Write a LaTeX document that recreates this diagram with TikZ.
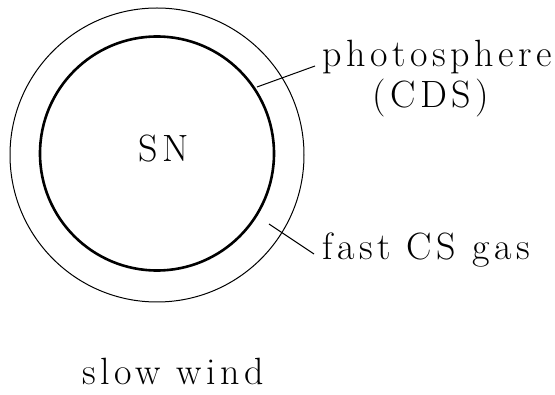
\documentclass[tikz,border=0pt]{standalone}
\usepackage{fontspec}
\newfontfamily\spaced{Latin Modern Roman}[LetterSpace=12]
\tikzset{
  lbl/.style={inner sep=0pt, font=\fontsize{38}{42}\selectfont\spaced},
  leader/.style={line width=1pt},
}
\begin{document}
\begin{tikzpicture}[x=1pt,y=-1pt]
\useasboundingbox (0,0) rectangle (555,395);
\draw[line width=1pt] (157,155) circle[radius=147];
\draw[line width=2.6pt] (157,153.5) circle[radius=117];
\node[lbl, anchor=base] (sn) at (164,162) {SN};
\node[lbl, anchor=base west] (ph) at (322,67) {photosphere};
\node[lbl, anchor=base] (cds) at (431,108) {(CDS)};
\node[lbl, anchor=base west] (fast) at (322,260) {fast CS gas};
\node[lbl, anchor=base west] (slow) at (82,385) {slow wind};
\coordinate (p1) at (257,87);
\coordinate (p2) at (315,66);
\coordinate (f1) at (269,224);
\coordinate (f2) at (314,254);
\draw[leader] (p1) -- (p2);
\draw[leader] (f1) -- (f2);
\end{tikzpicture}
\end{document}
